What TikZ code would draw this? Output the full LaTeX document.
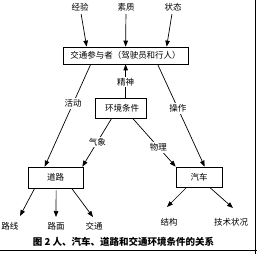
\documentclass[tikz,border=0pt]{standalone}
\usepackage{fontspec}
\setmainfont{Noto Sans CJK SC}
\usetikzlibrary{arrows.meta,calc}
\begin{document}
\begin{tikzpicture}[x=1pt,y=-1pt,
  lbl/.style={font=\fontsize{8.5}{10}\selectfont, inner sep=0.5pt},
  onl/.style={lbl, fill=white, inner sep=1.5pt},
  box/.style={draw, line width=0.7pt, inner sep=0pt, font=\fontsize{8.5}{10}\selectfont},
  ln/.style={line width=0.7pt},
  arr/.style={line width=0.7pt, -{Triangle[length=6pt,width=4.5pt]}}]
\useasboundingbox (0,0) rectangle (257,254);
% frame edges
\draw[line width=1.5pt] (255.5,0) -- (255.5,254);
\draw[line width=1.5pt] (0,250.5) -- (257,250.5);
% top labels
\node[lbl] (jy) at (80,7.5) {经验};
\node[lbl] (sz) at (126,7.5) {素质};
\node[lbl] (zt) at (173,7.5) {状态};
% boxes
\node[box, minimum width=125pt, minimum height=17pt] (pb) at (125.5,55.5) {交通参与者（驾驶员和行人）};
\node[box, minimum width=51pt, minimum height=20pt] (env) at (120.5,108) {\hspace*{3pt}环境条件};
\node[box, minimum width=55pt, minimum height=21pt] (road) at (55.5,177.5) {道路};
\node[box, minimum width=46pt, minimum height=20pt] (car) at (199,177) {汽车};
% bottom labels
\node[lbl] (lx) at (10,226) {路线};
\node[lbl] (lm) at (56,226) {路面};
\node[lbl] (jt) at (94,226) {交通};
\node[lbl] (jg) at (169,222) {结构};
\node[lbl] (js) at (231,222) {技术状况};
% caption
\node[font=\fontsize{9.5}{11}\selectfont\bfseries, inner sep=0pt] (cap) at (123.5,242) {图 2 人、汽车、道路和交通环境条件的关系};
% top arrows
\draw[arr, shorten <=2pt] (jy) -- ($(pb.north west)+(24,0)$);
\draw[arr, shorten <=2pt] (sz) -- ($(pb.north west)+(63,0)$);
\draw[arr, shorten <=2pt] (zt) -- ($(pb.north west)+(104,0)$);
% middle
\draw[arr] ($(env.north west)+(31,0)$) -- node (js1) [onl, pos=0.47] {精神} ($(pb.south west)+(63,0)$);
\draw[arr] ($(pb.south west)+(28,0)$) -- node (hd) [onl, pos=0.38] {活动} ($(road.north west)+(17,0)$);
\draw[arr] ($(pb.south west)+(95,0)$) -- node (cz) [onl, pos=0.43] {操作} ($(car.north west)+(29,0)$);
\draw[arr] ($(env.south west)+(17,0)$) -- node (qx) [onl, pos=0.49] {气象} ($(road.north east)+(-1,0)$);
\draw[arr] ($(env.south west)+(38,0)$) -- node (wl) [onl, pos=0.6] {物理} (car.north west);
% road arrows
\draw[arr] ($(road.south west)+(7,0)$) -- ($(lx.center)+(10,-10)$);
\draw[arr] ($(road.south west)+(28.5,2)$) -- ($(lm.center)+(0,-9)$);
\draw[arr] ($(road.south west)+(44,0)$) -- ($(jt.center)+(-1,-9)$);
% car arrows
\draw[arr] ($(car.south west)+(11,0)$) -- ($(jg.center)+(-2,-15)$);
\draw[arr] ($(car.south west)+(34,0)$) -- ($(js.center)+(2,-14)$);
\end{tikzpicture}
\end{document}
